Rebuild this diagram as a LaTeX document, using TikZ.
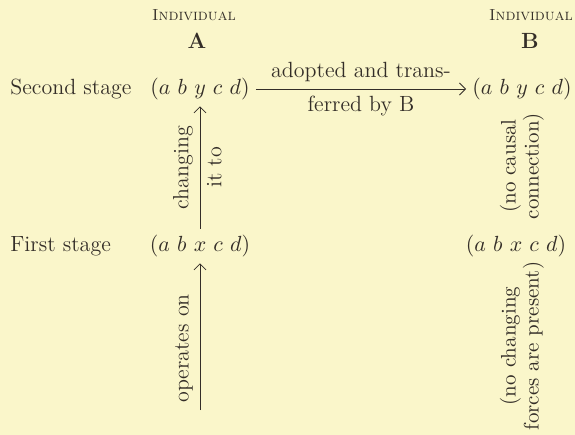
\documentclass[tikz,border=0pt]{standalone}
\usepackage{xcolor}
\usepackage{tikz}
\usetikzlibrary{arrows.meta, positioning}

\definecolor{paper}{RGB}{250,246,202}
\definecolor{ink}{RGB}{52,46,40}

\begin{document}
\begin{tikzpicture}[x=0.5pt, y=-0.5pt, every node/.style={font=\fontsize{11}{13}\selectfont, text=ink}]
  \tikzset{seq/.style={inner sep=3pt},
    head/.style={font=\fontsize{8}{10}\selectfont\scshape},
    note/.style={rotate=90, align=center, font=\fontsize{10.5}{10}\selectfont},
    conn/.style={draw=ink, -{Straight Barb[length=3pt]}}}
  \fill[paper] (0,0) rectangle (575,435);
  \useasboundingbox (0,0) rectangle (575,435);

  % headings
  \node[head] (hA) at (194,15) {Individual};
  \node (tA) at (197,41) {\bfseries A};
  \node[head] (hB) at (531,15) {Individual};
  \node (tB) at (530,41) {\bfseries B};

  % stages
  \node[anchor=west, inner sep=0pt] (second) at (10,89) {Second stage};
  \node[anchor=west, inner sep=0pt] (first) at (10,246) {First stage};

  \node[seq] (sA) at (200,89) {$(a\ b\ y\ c\ d)$};
  \node[seq] (sB) at (522,89) {$(a\ b\ y\ c\ d)$};
  \node[seq] (fA) at (200,246) {$(a\ b\ x\ c\ d)$};
  \node[seq] (fB) at (516,246) {$(a\ b\ x\ c\ d)$};
  \coordinate (base) at (200,410);

  \draw[conn] (sA) -- (sB)
    node[midway, above] (adopt) {adopted and trans-}
    node[midway, below] (ferred) {ferred by B};
  \draw[conn] (fA) -- (sA)
    node[midway, above, sloped] (chg) {changing}
    node[midway, below, sloped] (itto) {it to};
  \draw[conn] (base) -- (fA)
    node[pos=0.42, above, sloped] (oper) {operates on};

  % notes on B
  \node[note] (causal) at (522,166) {(no causal\\connection)};
  \node[note] (forces) at (522,346) {(no changing\\forces are present)};
\end{tikzpicture}
\end{document}
